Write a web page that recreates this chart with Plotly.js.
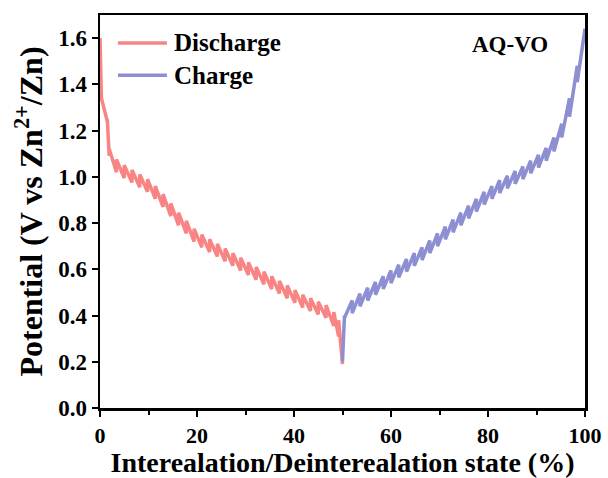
<!DOCTYPE html>
<html>
<head>
<meta charset="utf-8">
<script src="https://cdn.plot.ly/plotly-3.0.1.min.js"></script>
<style>
  html, body { margin: 0; padding: 0; background: #fff; }
  #chart { width: 608px; height: 478px; }
</style>
</head>
<body>
<div id="chart"></div>
<script>
// GITT profile of AQ-VO: each titration pulse is stored as the state at its end,
// the potential reached at the end of the pulse, and the relaxed potential after rest.

// Discharge (intercalation), state in %
const disState = [0, 0.3, 1.5, 1.9, 3.4, 5.0, 6.6, 8.2, 9.8, 11.4, 13.0, 14.6, 16.2, 17.8, 19.4,
  21.0, 22.6, 24.2, 25.8, 27.4, 29.0, 30.6, 32.2, 33.8, 35.4, 37.0, 38.6, 40.2, 41.8,
  43.4, 45.0, 46.6, 48.2, 49.2, 50.0];
const disPulseEnd = [null, 1.33, 1.24, 1.09, 1.02, 0.995, 0.975, 0.955, 0.935, 0.905, 0.87, 0.83,
  0.79, 0.755, 0.72, 0.695, 0.675, 0.655, 0.635, 0.615, 0.595, 0.575, 0.555, 0.535,
  0.515, 0.495, 0.475, 0.455, 0.435, 0.42, 0.405, 0.39, 0.355, 0.31, 0.19];
const disRelaxed = [1.60, 1.34, 1.25, 1.12, 1.075, 1.05, 1.03, 1.01, 0.99, 0.96, 0.925, 0.885,
  0.845, 0.81, 0.775, 0.75, 0.73, 0.71, 0.69, 0.67, 0.65, 0.63, 0.61, 0.59, 0.57,
  0.55, 0.53, 0.51, 0.49, 0.475, 0.46, 0.445, 0.415, 0.38, 0.19];

// Charge (deintercalation), state in %
const chgState = [50.0, 50.4, 52.0, 53.6, 55.2, 56.8, 58.4, 60.0, 61.6, 63.2, 64.8, 66.4, 68.0,
  69.6, 71.2, 72.8, 74.4, 76.0, 77.6, 79.2, 80.8, 82.4, 84.0, 85.6, 87.2, 88.8, 90.4,
  92.0, 93.6, 95.2, 96.8, 98.4, 100.0];
const chgPulseEnd = [null, 0.40, 0.465, 0.495, 0.52, 0.545, 0.57, 0.595, 0.62, 0.645, 0.67, 0.695,
  0.725, 0.755, 0.785, 0.815, 0.845, 0.875, 0.905, 0.935, 0.96, 0.985, 1.005, 1.025,
  1.045, 1.07, 1.095, 1.125, 1.17, 1.23, 1.34, 1.48, 1.64];
const chgRelaxed = [0.20, 0.39, 0.41, 0.44, 0.465, 0.49, 0.515, 0.54, 0.565, 0.59, 0.615, 0.64,
  0.67, 0.70, 0.73, 0.76, 0.79, 0.82, 0.85, 0.88, 0.905, 0.93, 0.95, 0.97,
  0.99, 1.015, 1.04, 1.07, 1.11, 1.17, 1.26, 1.41, 1.64];

const seriesNames = ['Discharge', 'Charge'];
const seriesColors = ['#F98484', '#8E8ED2'];
const xTicks = [0, 20, 40, 60, 80, 100];
const yTicks = [0.0, 0.2, 0.4, 0.6, 0.8, 1.0, 1.2, 1.4, 1.6];

// Pulse -> rest polyline: slope during the pulse, vertical step during relaxation
function gittPath(state, pulseEnd, relaxed) {
  const x = [state[0]], y = [relaxed[0]];
  for (let i = 1; i < state.length; i++) {
    x.push(state[i]); y.push(pulseEnd[i]);
    x.push(state[i]); y.push(relaxed[i]);
  }
  return { x, y };
}

const dis = gittPath(disState, disPulseEnd, disRelaxed);
const chg = gittPath(chgState, chgPulseEnd, chgRelaxed);

const serif = 'Liberation Serif, Times New Roman, serif';

const traces = [
  { x: dis.x, y: dis.y, mode: 'lines', name: seriesNames[0],
    line: { color: seriesColors[0], width: 3.5 }, showlegend: false },
  { x: chg.x, y: chg.y, mode: 'lines', name: seriesNames[1],
    line: { color: seriesColors[1], width: 3.5 }, showlegend: false }
];

// Hand-placed legend with long line samples, plus the sample label
const legY = [0.929, 0.847];
const shapes = seriesNames.map((n, i) => ({
  type: 'line', xref: 'paper', yref: 'paper',
  x0: 0.037, x1: 0.138, y0: legY[i], y1: legY[i],
  line: { color: seriesColors[i], width: 3.5 }
}));
const annotations = seriesNames.map((n, i) => ({
  text: n, xref: 'paper', yref: 'paper', x: 0.148, y: legY[i],
  xanchor: 'left', yanchor: 'middle', showarrow: false,
  font: { family: serif, size: 25, color: '#000', weight: 'bold' }
}));
annotations.push({
  text: 'AQ-VO', xref: 'paper', yref: 'paper', x: 0.845, y: 0.924,
  xanchor: 'center', yanchor: 'middle', showarrow: false,
  font: { family: serif, size: 23, color: '#000', weight: 'bold' }
});

const layout = {
  width: 608, height: 478,
  margin: { l: 100, r: 23, t: 15, b: 70 },
  paper_bgcolor: '#fff', plot_bgcolor: '#fff',
  showlegend: false,
  font: { family: serif, color: '#000' },
  xaxis: {
    range: [0, 100], tickvals: xTicks, ticktext: xTicks.map(String),
    ticks: 'outside', ticklen: 6, tickwidth: 2, tickcolor: '#000',
    minor: { dtick: 10, ticks: 'outside', ticklen: 4, tickwidth: 2, tickcolor: '#000' },
    showline: true, linewidth: 2.5, linecolor: '#000', mirror: true,
    showgrid: false, zeroline: false,
    tickfont: { family: serif, size: 22, weight: 'bold' },
    title: { text: 'Interealation/Deinterealation state (%)', standoff: 10,
      font: { family: serif, size: 28, weight: 'bold' } }
  },
  yaxis: {
    range: [0, 1.7], tickvals: yTicks, ticktext: yTicks.map(v => v.toFixed(1)),
    ticks: 'outside', ticklen: 6, tickwidth: 2, tickcolor: '#000',
    showline: true, linewidth: 2.5, linecolor: '#000', mirror: true,
    showgrid: false, zeroline: false,
    tickfont: { family: serif, size: 23, weight: 'bold' },
    title: { text: 'Potential (V vs Zn<sup>2+</sup>/Zn)', standoff: 6,
      font: { family: serif, size: 32, weight: 'bold' } }
  },
  shapes, annotations
};

Plotly.newPlot('chart', traces, layout, { displayModeBar: false, staticPlot: true });
</script>
</body>
</html>
